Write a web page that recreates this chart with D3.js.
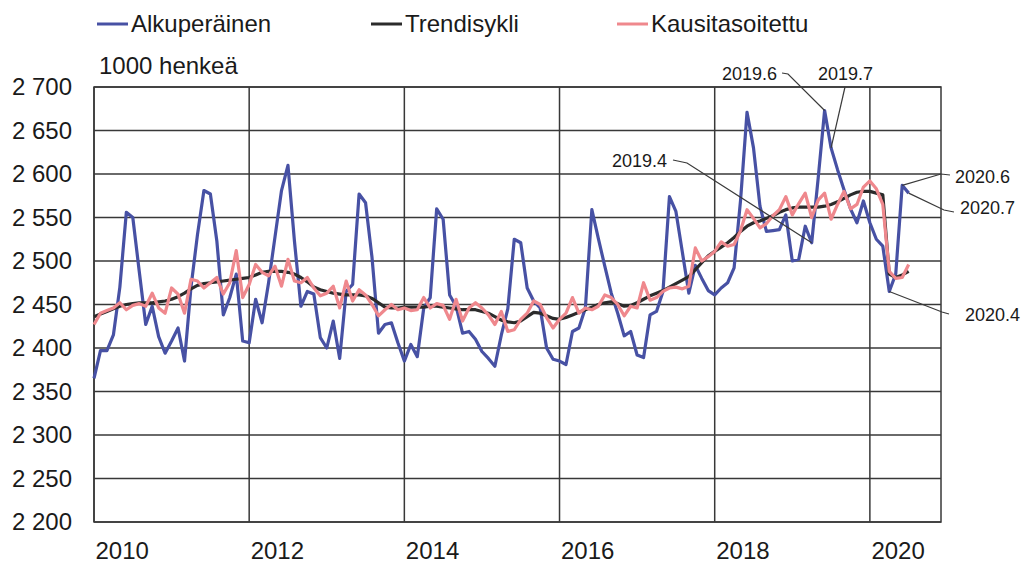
<!DOCTYPE html>
<html>
<head>
<meta charset="utf-8">
<script src="https://cdn.jsdelivr.net/npm/d3@7"></script>
<style>
  body { margin: 0; background: #fff; }
  text { font-family: "Liberation Sans", Arial, sans-serif; fill: #1a1a1a; }
</style>
</head>
<body>
<svg width="1023" height="563"></svg>
<script>
// monthly series, starting January 2010 (1000 persons)
var startYear = 2010;

var alkuperainen = [
  2365, 2397, 2397, 2415, 2470, 2556, 2550, 2488, 2427, 2448, 2413, 2394,
  2408, 2423, 2385, 2470, 2530, 2581, 2577, 2523, 2438, 2458, 2485, 2408,
  2406, 2456, 2429, 2475, 2528, 2581, 2610, 2523, 2448, 2465, 2462, 2412,
  2400, 2431, 2388, 2465, 2473, 2577, 2567, 2504, 2417, 2427, 2429, 2406,
  2385, 2404, 2390, 2446, 2458, 2560, 2548, 2461, 2448, 2417, 2419, 2410,
  2396, 2388, 2379, 2415, 2445, 2525, 2521, 2469, 2454, 2446, 2400, 2387,
  2385, 2381, 2419, 2423, 2446, 2559, 2526, 2494, 2463, 2440, 2414, 2419,
  2392, 2389, 2438, 2442, 2465, 2574, 2557, 2510, 2463, 2495, 2480, 2466,
  2461, 2469, 2475, 2492, 2570, 2671, 2630, 2563, 2534, 2535, 2536, 2553,
  2500, 2502, 2540, 2521, 2595, 2673, 2630, 2605, 2582, 2560, 2544, 2569,
  2544, 2525, 2517, 2465, 2485, 2587, 2578
];

var trendisykli = [
  2436, 2439, 2442, 2445, 2448, 2450, 2451, 2452, 2452, 2452, 2453, 2454,
  2456, 2459, 2463, 2468, 2472, 2474, 2475, 2476, 2477, 2478, 2479, 2480,
  2481, 2484, 2487, 2488, 2488, 2488, 2487, 2485, 2481, 2476, 2470, 2467,
  2465, 2463, 2462, 2461, 2461, 2461, 2460, 2457, 2452, 2447, 2446, 2446,
  2447, 2447, 2447, 2447, 2448, 2448, 2447, 2446, 2445, 2444, 2444, 2444,
  2442, 2440, 2436, 2432, 2430, 2429, 2431, 2436, 2441, 2440, 2437, 2434,
  2433, 2435, 2438, 2441, 2444, 2447, 2450, 2452, 2453, 2451, 2448, 2449,
  2452, 2456, 2460, 2463, 2466, 2470, 2474, 2478, 2482, 2490, 2498, 2506,
  2511, 2516, 2521, 2527, 2534, 2540, 2544, 2546, 2549, 2552, 2556, 2559,
  2561, 2562, 2562, 2562, 2562, 2563, 2565, 2568, 2572, 2576, 2579, 2580,
  2580, 2578, 2576, 2485, 2481, 2484, 2488
];

var kausitasoitettu = [
  2427, 2440, 2443, 2446, 2452, 2444, 2449, 2451, 2448, 2463, 2446, 2440,
  2469, 2462, 2440, 2479, 2477, 2469, 2475, 2481, 2462, 2475, 2512, 2458,
  2473, 2496, 2487, 2483, 2494, 2471, 2502, 2477, 2475, 2481, 2469, 2460,
  2463, 2471, 2446, 2477, 2454, 2467, 2461, 2450, 2437, 2444, 2450, 2444,
  2446, 2443, 2444, 2458, 2446, 2451, 2449, 2433, 2456, 2431, 2446, 2452,
  2446, 2438, 2427, 2442, 2419, 2421, 2433, 2440, 2454, 2450, 2435, 2423,
  2433, 2440, 2458, 2440, 2446, 2444, 2448, 2461, 2458, 2450, 2437, 2448,
  2446, 2475, 2455, 2458, 2465, 2469, 2470, 2468, 2471, 2515, 2500, 2505,
  2511, 2522, 2517, 2519, 2535, 2559, 2549, 2538, 2543, 2552, 2559, 2574,
  2553, 2566, 2578, 2550, 2570, 2578, 2548, 2565, 2580, 2560, 2565, 2585,
  2592, 2583, 2565, 2488, 2480, 2481, 2496
];

var yTicks = [2200, 2250, 2300, 2350, 2400, 2450, 2500, 2550, 2600, 2650, 2700];
var xTicks = [2010, 2012, 2014, 2016, 2018, 2020];
var seriesNames = ["Alkuperäinen", "Trendisykli", "Kausitasoitettu"];
var seriesColors = ["#4751a4", "#2b2b2b", "#ef888d"];

// annotated points of the original series: label, month index
var notes = [
  { label: "2019.4", idx: 111 },
  { label: "2019.6", idx: 113 },
  { label: "2019.7", idx: 114 },
  { label: "2020.4", idx: 123 },
  { label: "2020.6", idx: 125 },
  { label: "2020.7", idx: 126 }
];

var svg = d3.select("svg");
var plot = { left: 94, right: 941, top: 87, bottom: 522 };

var x = d3.scaleLinear()
  .domain([startYear, startYear + 131 / 12])
  .range([plot.left, plot.right]);
var y = d3.scaleLinear()
  .domain([2200, 2700])
  .range([plot.bottom, plot.top]);

var fi = d3.formatLocale({ decimal: ",", thousands: " ", grouping: [3], currency: ["", " €"] });

// grid
var grid = svg.append("g").attr("stroke", "#383838").attr("stroke-width", 1.5);
grid.selectAll(".h").data(yTicks).enter().append("line")
  .attr("x1", plot.left).attr("x2", plot.right)
  .attr("y1", d => y(d)).attr("y2", d => y(d));
grid.selectAll(".v").data(xTicks).enter().append("line")
  .attr("x1", d => x(d)).attr("x2", d => x(d))
  .attr("y1", plot.top).attr("y2", plot.bottom);
grid.append("rect")
  .attr("x", plot.left).attr("y", plot.top)
  .attr("width", plot.right - plot.left).attr("height", plot.bottom - plot.top)
  .attr("fill", "none");

// y axis
var yAxis = svg.append("g")
  .attr("transform", "translate(" + plot.left + ",0)")
  .call(d3.axisLeft(y).tickValues(yTicks).tickFormat(fi.format(",")).tickSize(0).tickPadding(22));
yAxis.select(".domain").remove();
yAxis.selectAll("text")
  .attr("font-size", 24)
  .attr("font-family", "Liberation Sans, Arial, sans-serif")
  .attr("fill", "#1a1a1a");

// x axis
var xAxis = svg.append("g")
  .attr("transform", "translate(0," + plot.bottom + ")")
  .call(d3.axisBottom(x).tickValues(xTicks).tickFormat(d3.format("d")).tickSize(0));
xAxis.select(".domain").remove();
xAxis.selectAll("text")
  .attr("font-size", 24)
  .attr("font-family", "Liberation Sans, Arial, sans-serif")
  .attr("fill", "#1a1a1a")
  .attr("text-anchor", "start")
  .attr("x", 1)
  .attr("y", 37)
  .attr("dy", 0);

svg.append("text")
  .attr("x", 99).attr("y", 74)
  .attr("font-size", 24)
  .text("1000 henkeä");

// lines
var line = d3.line()
  .x((d, i) => x(startYear + i / 12))
  .y(d => y(d));

[alkuperainen, trendisykli, kausitasoitettu].forEach(function (s, k) {
  svg.append("path")
    .datum(s)
    .attr("d", line)
    .attr("fill", "none")
    .attr("stroke", seriesColors[k])
    .attr("stroke-width", 3.2)
    .attr("stroke-linejoin", "round");
});

// annotations: label position and leader elbow
var labelPos = {
  "2019.4": { tx: 667, ty: 167, anchor: "end", path: [[673, 160], [687, 163]] },
  "2019.6": { tx: 777, ty: 80, anchor: "end", path: [[782, 73], [788, 74]] },
  "2019.7": { tx: 818, ty: 80, anchor: "start", path: [[845, 87]] },
  "2020.4": { tx: 965, ty: 321, anchor: "start", path: [[949, 314], [942, 312]] },
  "2020.6": { tx: 955, ty: 183, anchor: "start", path: [[950, 175], [941, 174]] },
  "2020.7": { tx: 960, ty: 214, anchor: "start", path: [[954, 212], [944, 210]] }
};

var ann = svg.append("g");
notes.forEach(function (n) {
  var p = labelPos[n.label];
  var pts = p.path.concat([[x(startYear + n.idx / 12), y(alkuperainen[n.idx])]]);
  ann.append("path")
    .attr("d", d3.line()(pts))
    .attr("fill", "none")
    .attr("stroke", "#3a3a3a")
    .attr("stroke-width", 1.2);
  ann.append("text")
    .attr("x", p.tx).attr("y", p.ty)
    .attr("text-anchor", p.anchor)
    .attr("font-size", 18)
    .text(n.label);
});

// legend
var legendX = [97, 371, 617];
var legend = svg.append("g");
seriesNames.forEach(function (name, k) {
  legend.append("line")
    .attr("x1", legendX[k]).attr("x2", legendX[k] + 31)
    .attr("y1", 24).attr("y2", 24)
    .attr("stroke", seriesColors[k])
    .attr("stroke-width", 3);
  legend.append("text")
    .attr("x", legendX[k] + 34).attr("y", 32)
    .attr("font-size", 24)
    .text(name);
});
</script>
</body>
</html>
